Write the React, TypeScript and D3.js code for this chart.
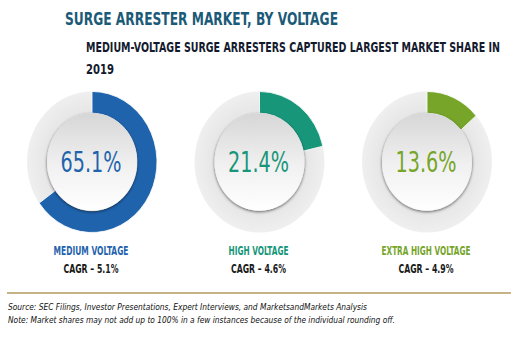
import React from "react";
import * as d3 from "d3";

const categories = ["MEDIUM VOLTAGE", "HIGH VOLTAGE", "EXTRA HIGH VOLTAGE"];
const shares = [65.1, 21.4, 13.6];
const cagr = [5.1, 4.6, 4.9];
const colors = ["#1f63ad", "#17967a", "#76a52a"];
const labelWidths = [75, 60, 89];

const W = 521;
const H = 345;
const FONT = "'Liberation Sans Narrow', 'DejaVu Sans Condensed', Roboto, sans-serif";

function Fit(props: { x: number; y: number; w: number; size: number; sx: number; anchor?: string; children: string; [k: string]: any }) {
  const { x, y, w, size, sx, anchor, children, ...rest } = props;
  return (
    <g transform={`translate(${x},${y}) scale(${sx},1)`}>
      <text x={0} y={0} fontSize={size} textAnchor={anchor || "start"} textLength={w / sx} lengthAdjust="spacingAndGlyphs" fontFamily={FONT} {...rest}>
        {children}
      </text>
    </g>
  );
}

export default function App() {
  const x = d3.scalePoint<string>().domain(categories).range([92, 427]);
  const angle = d3.scaleLinear().domain([0, 100]).range([0, 2 * Math.PI]);
  const R = 65;
  const r = 45;
  const cy = 162;
  const sy = 1.085;
  const ringArc = d3.arc<any>().innerRadius(r).outerRadius(R).startAngle(0).endAngle(2 * Math.PI);
  const valArc = d3.arc<any>().innerRadius(r).outerRadius(R).startAngle(0);

  return (
    <svg width={W} height={H} style={{ position: "absolute", left: 0, top: 0, background: "#fff" }}>
      <defs>
        <linearGradient id="inner" x1="0" y1="0" x2="0" y2="1">
          <stop offset="0" stopColor="#d6d6d6" />
          <stop offset="0.55" stopColor="#f1f1f1" />
          <stop offset="1" stopColor="#ffffff" />
        </linearGradient>
        <radialGradient id="ring" cx="0.5" cy="0.5" r="0.5">
          <stop offset="0.7" stopColor="#e6e6e6" />
          <stop offset="1" stopColor="#efefef" />
        </radialGradient>
        <filter id="shadow" x="-30%" y="-30%" width="160%" height="160%">
          <feDropShadow dx="0" dy="1" stdDeviation="1.4" floodColor="#000" floodOpacity="0.6" />
        </filter>
      </defs>
      <rect width={W} height={H} fill="#fff" />
      <Fit x={65} y={25} w={273} size={17} sx={0.85} fontWeight="bold" fill="#1b5a78">
        SURGE ARRESTER MARKET, BY VOLTAGE
      </Fit>
      <Fit x={86} y={52} w={414} size={14} sx={0.78} fontWeight="bold" fill="#141a2e">
        MEDIUM-VOLTAGE SURGE ARRESTERS CAPTURED LARGEST MARKET SHARE IN
      </Fit>
      <Fit x={86} y={74} w={28} size={14} sx={0.85} fontWeight="bold" fill="#141a2e">
        2019
      </Fit>

      {categories.map((c, i) => {
        const cx = x(c) as number;
        return (
          <g key={c}>
            <g transform={`translate(${cx},${cy}) scale(1,${sy})`}>
              <path d={ringArc({}) as string} fill="url(#ring)" />
              <path d={valArc({ endAngle: angle(shares[i]) }) as string} fill={colors[i]} stroke="#fff" strokeWidth={0.8} />
              <circle r={r} fill="url(#inner)" filter="url(#shadow)" />
            </g>
            <Fit x={cx - 1} y={cy + 10} w={61} size={29} sx={0.9} anchor="middle" fill={colors[i]}>
              {`${shares[i].toFixed(1)}%`}
            </Fit>
            <Fit x={cx - 1} y={255} w={labelWidths[i]} size={12} sx={0.85} anchor="middle" fontWeight="bold" fill={colors[i]}>
              {c}
            </Fit>
            <Fit x={cx - 1} y={273} w={55} size={12} sx={0.85} anchor="middle" fontWeight="bold" fill="#1a1a1a">
              {`CAGR – ${cagr[i].toFixed(1)}%`}
            </Fit>
          </g>
        );
      })}

      <line x1={7} x2={511} y1={293} y2={293} stroke="#b39b5e" strokeWidth={1.3} />
      <Fit x={8} y={310} w={359} size={9.5} sx={0.9} fontStyle="italic" fill="#111">
        Source: SEC Filings, Investor Presentations, Expert Interviews, and MarketsandMarkets Analysis
      </Fit>
      <Fit x={8} y={323} w={387} size={9.5} sx={0.9} fontStyle="italic" fill="#111">
        Note: Market shares may not add up to 100% in a few instances because of the individual rounding off.
      </Fit>
    </svg>
  );
}
